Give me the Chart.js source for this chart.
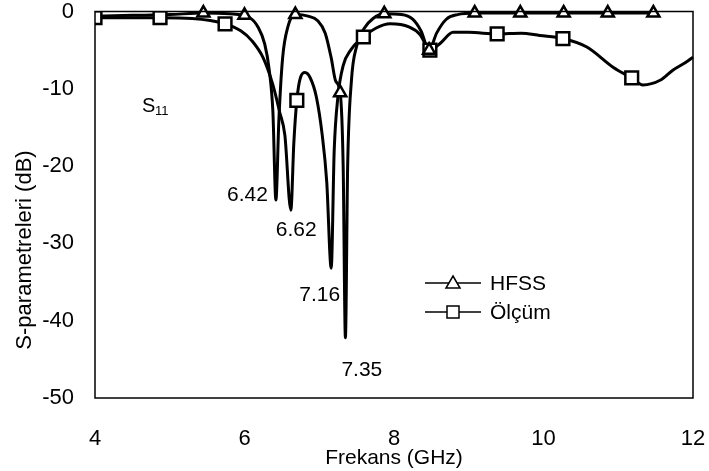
<!DOCTYPE html>
<html>
<head>
<meta charset="utf-8">
<script src="https://cdn.jsdelivr.net/npm/chart.js@4"></script>
<style>
html,body{margin:0;padding:0;background:#fff;}
#c{display:block;}
</style>
</head>
<body>
<canvas id="c" width="709" height="471"></canvas>
<script>
// ---- data ----
const xTicks = [4, 6, 8, 10, 12];
const yTicks = [0, -10, -20, -30, -40, -50];

// HFSS (simulation) curve
const hfssFreq = [4.0, 4.5, 5.0, 5.45, 5.8, 6.07, 6.18, 6.27, 6.33, 6.38, 6.42, 6.46, 6.51, 6.58, 6.68,
  6.85, 6.98, 7.08, 7.16, 7.22, 7.28, 7.32, 7.35, 7.38, 7.43, 7.5, 7.6, 7.72, 7.87,
  8.1, 8.25, 8.36, 8.47, 8.57, 8.7, 8.85, 9.08, 9.69, 10.27, 10.86, 11.47];
const hfssDb = [-0.6, -0.5, -0.4, -0.2, -0.3, -0.8, -2, -4.2, -7.5, -13, -24.4, -14, -6, -2, -0.4,
  -0.6, -1.2, -2.8, -6, -9, -10.5, -20, -42.2, -20, -9, -4.5, -2.2, -0.9, -0.3,
  -0.4, -1, -2.5, -5, -2.8, -1, -0.4, -0.2, -0.2, -0.2, -0.2, -0.2];
const hfssMarkFreq = [5.45, 6.0, 6.68, 7.28, 7.87, 8.47, 9.08, 9.69, 10.27, 10.86, 11.47];
const hfssMarkDb   = [-0.2, -0.5, -0.4, -10.5, -0.3, -5, -0.2, -0.2, -0.2, -0.2, -0.2];

// Ölçüm (measurement) curve
const olcFreq = [4.0, 4.87, 5.3, 5.74, 5.95, 6.1, 6.25, 6.38, 6.47, 6.54, 6.62, 6.66, 6.70, 6.75, 6.81, 6.88,
  6.96, 7.04, 7.1, 7.16, 7.2, 7.25, 7.32, 7.42, 7.59, 7.75, 7.95, 8.2, 8.35, 8.48, 8.62,
  8.79, 9.0, 9.38, 9.7, 9.95, 10.26, 10.58, 10.93, 11.18, 11.33, 11.56, 11.73, 11.9, 12.0];
const olcDb = [-0.8, -0.8, -0.9, -1.6, -2.5, -3.8, -6, -9.5, -13, -16, -25.7, -17, -11.5, -8.5, -7.9, -8.6,
  -11, -16, -22, -33.2, -18, -11, -7, -5, -3.3, -2.2, -1.6, -2.0, -3, -5, -4.1,
  -2.7, -2.7, -2.9, -2.8, -3.1, -3.5, -4.6, -7.2, -8.6, -9.5, -8.9, -7.6, -6.6, -5.9];
const olcMarkFreq = [4.0, 4.87, 5.74, 6.70, 7.59, 8.48, 9.38, 10.26, 11.18];
const olcMarkDb   = [-0.8, -0.8, -1.6, -11.5, -3.3, -5, -2.9, -3.5, -8.6];

// labelled resonances
const dipFreq = [6.42, 6.62, 7.16, 7.35];
const dipDb = [-24.4, -25.7, -33.2, -42.2];
const dipLabels = ['6.42', '6.62', '7.16', '7.35'];

const seriesNames = ['HFSS', 'Ölçüm'];
const axisTitleX = 'Frekans (GHz)';
const axisTitleY = 'S-parametreleri (dB)';

// ---- build ----
const pts = (xs, ys) => xs.map((x, i) => ({x: x, y: ys[i]}));
const FONT = '"Liberation Sans", Arial, sans-serif';

const overlay = {
  id: 'overlay',
  afterDraw(chart) {
    const ctx = chart.ctx, a = chart.chartArea;
    const xs = chart.scales.x, ys = chart.scales.y;
    ctx.save();
    // frame
    ctx.strokeStyle = '#000';
    ctx.lineWidth = 1.5;
    ctx.strokeRect(a.left, a.top, a.right - a.left, a.bottom - a.top);

    ctx.fillStyle = '#000';
    // y title
    ctx.save();
    ctx.translate(25, 250);
    ctx.rotate(-Math.PI / 2);
    ctx.font = '22px ' + FONT;
    ctx.textAlign = 'center';
    ctx.textBaseline = 'middle';
    ctx.fillText(axisTitleY, 0, 0);
    ctx.restore();

    // dip labels
    ctx.font = '21px ' + FONT;
    ctx.textBaseline = 'middle';
    const offs = [[-8, -5, 'right'], [-15, 20, 'left'], [9, 27, 'right'], [-4, 32, 'left']];
    dipFreq.forEach((f, i) => {
      const px = xs.getPixelForValue(f), py = ys.getPixelForValue(dipDb[i]);
      ctx.textAlign = offs[i][2];
      ctx.fillText(dipLabels[i], px + offs[i][0], py + offs[i][1]);
    });

    // S11
    ctx.textAlign = 'left';
    ctx.font = '20px ' + FONT;
    ctx.fillText('S', 142, 106);
    ctx.font = '13px ' + FONT;
    ctx.fillText('11', 155, 111);

    // legend
    const items = [
      {name: seriesNames[0], style: 'triangle', y: 283},
      {name: seriesNames[1], style: 'rect', y: 312}
    ];
    items.forEach(it => {
      ctx.strokeStyle = '#000';
      ctx.lineWidth = 1.5;
      ctx.beginPath();
      ctx.moveTo(425, it.y); ctx.lineTo(481, it.y);
      ctx.stroke();
      ctx.fillStyle = '#fff';
      ctx.beginPath();
      if (it.style === 'triangle') {
        ctx.moveTo(453, it.y - 7); ctx.lineTo(460, it.y + 5); ctx.lineTo(446, it.y + 5); ctx.closePath();
      } else {
        ctx.rect(447, it.y - 6, 12, 12);
      }
      ctx.fill(); ctx.stroke();
      ctx.fillStyle = '#000';
      ctx.font = '21px ' + FONT;
      ctx.textAlign = 'left';
      ctx.textBaseline = 'middle';
      ctx.fillText(it.name, 490, it.y + 1);
    });
    ctx.restore();
  }
};

new Chart(document.getElementById('c'), {
  type: 'scatter',
  data: {
    datasets: [
      {label: seriesNames[0], data: pts(hfssFreq, hfssDb), showLine: true, borderColor: '#000',
        borderWidth: 3, pointRadius: 0, cubicInterpolationMode: 'monotone', clip: 6, order: 2},
      {label: seriesNames[1], data: pts(olcFreq, olcDb), showLine: true, borderColor: '#000',
        borderWidth: 3, pointRadius: 0, cubicInterpolationMode: 'monotone', clip: 6, order: 2},
      {label: seriesNames[0] + ' markers', data: pts(hfssMarkFreq, hfssMarkDb), showLine: false,
        pointStyle: 'triangle', pointRadius: 7, borderColor: '#000', borderWidth: 2.5,
        backgroundColor: '#fff', clip: 10, order: 1},
      {label: seriesNames[1] + ' markers', data: pts(olcMarkFreq, olcMarkDb), showLine: false,
        pointStyle: 'rect', pointRadius: 9, borderColor: '#000', borderWidth: 2.5,
        backgroundColor: '#fff', clip: 0, order: 1}
    ]
  },
  options: {
    responsive: false,
    animation: false,
    devicePixelRatio: 1,
    layout: {padding: {left: 0, right: 16, top: 11, bottom: 0}},
    plugins: {legend: {display: false}, tooltip: {enabled: false}},
    scales: {
      x: {
        type: 'linear', min: 4, max: 12,
        afterBuildTicks: s => { s.ticks = xTicks.map(v => ({value: v})); },
        afterFit: s => { s.height = 73; s.paddingLeft = 0; s.paddingRight = 0; },
        grid: {display: false, drawTicks: false},
        border: {display: false},
        ticks: {color: '#000', font: {family: FONT, size: 22}, padding: 28},
        title: {display: true, text: axisTitleX, color: '#000', font: {family: FONT, size: 21},
          padding: {top: 0, bottom: 0}}
      },
      y: {
        min: -50, max: 0,
        afterBuildTicks: s => { s.ticks = yTicks.map(v => ({value: v})); },
        afterFit: s => { s.width = 95; s.paddingTop = 0; s.paddingBottom = 0; },
        grid: {display: false, drawTicks: false},
        border: {display: false},
        ticks: {color: '#000', font: {family: FONT, size: 22}, padding: 21}
      }
    }
  },
  plugins: [overlay]
});
</script>
</body>
</html>
